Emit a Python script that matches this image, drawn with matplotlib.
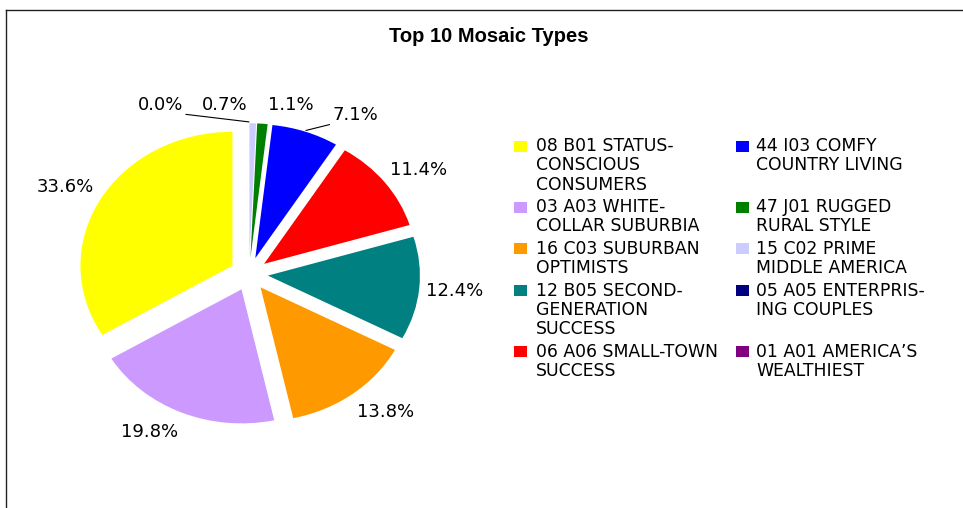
import numpy as np
import matplotlib
matplotlib.use("Agg")
import matplotlib.pyplot as plt
from matplotlib.lines import Line2D
from matplotlib.patches import Rectangle

# ---- data ----
categories = [
    "08 B01 STATUS-\nCONSCIOUS\nCONSUMERS",
    "03 A03 WHITE-\nCOLLAR SUBURBIA",
    "16 C03 SUBURBAN\nOPTIMISTS",
    "12 B05 SECOND-\nGENERATION\nSUCCESS",
    "06 A06 SMALL-TOWN\nSUCCESS",
    "44 I03 COMFY\nCOUNTRY LIVING",
    "47 J01 RUGGED\nRURAL STYLE",
    "15 C02 PRIME\nMIDDLE AMERICA",
    "05 A05 ENTERPRIS-\nING COUPLES",
    "01 A01 AMERICA\u2019S\nWEALTHIEST",
]
shares = [33.6, 19.8, 13.8, 12.4, 11.4, 7.1, 1.1, 0.7, 0.0, 0.0]
colors = ["#FFFF00", "#CC99FF", "#FF9900", "#008080", "#FF0000",
          "#0000FF", "#008000", "#CCCCFF", "#000080", "#800080"]
title = "Top 10 Mosaic Types"

# ---- layout (pixels / polar tweaks) ----
W, H = 963, 508
EXPLODE = 0.125
label_radius = [1.374, 1.347, 1.368, 1.361, 1.361, 1.378, 1.290, 1.271, 1.389, 1.389]
label_shift = [1.3, -5.7, 3.9, 0.1, -2.6, -11.2, -7.7, 8.4, 24.8, 24.8]
leader = {5: (0, 0), 8: (1, 0), 9: (1, 0)}

fig = plt.figure(figsize=(W / 100, H / 100), dpi=100)
fig.patch.set_facecolor("white")

# frame lines (chart area border, cropped)
fig.add_artist(Line2D([5.5 / W, 5.5 / W], [0, 1 - 9.5 / H], transform=fig.transFigure,
                      color="#202020", lw=1.0))
fig.add_artist(Line2D([5.5 / W, 1], [1 - 9.5 / H, 1 - 9.5 / H], transform=fig.transFigure,
                      color="#202020", lw=1.0))

fig.text(489 / W, 1 - 41.5 / H, title, ha="center", va="baseline",
         fontsize=14.5, fontweight="bold", family="Liberation Sans", color="black")

# pie axes
ax_w = 500
cx, cy = 249, H - 274
rx, ry = 152, 134
ax = fig.add_axes([0, 0, ax_w / W, 1])
wedges, _ = ax.pie(shares, colors=colors, startangle=90, counterclock=True,
                   explode=[EXPLODE] * len(shares), wedgeprops=dict(linewidth=0))
ax.set_aspect("auto")
ax.set_xlim(-cx / rx, (ax_w - cx) / rx)
ax.set_ylim(-cy / ry, (H - cy) / ry)
ax.axis("off")

drawn = set()
for i, (w, v) in enumerate(zip(wedges, shares)):
    mid = np.deg2rad((w.theta1 + w.theta2) / 2)
    ang = mid + np.deg2rad(label_shift[i])
    lx, ly = label_radius[i] * np.cos(ang), label_radius[i] * np.sin(ang)
    txt = f"{v:.1f}%"
    key = (round(lx, 3), round(ly, 3), txt)
    if key in drawn:
        continue  # identical label at the same spot (overlapping zero slices)
    drawn.add(key)
    if i in leader:
        sx, sy = (1 + EXPLODE + 0.01) * np.cos(mid), (1 + EXPLODE + 0.01) * np.sin(mid)
        ax.annotate(txt, xy=(sx, sy), xytext=(lx, ly), ha="center", va="center",
                    fontsize=13, family="DejaVu Sans", color="black",
                    arrowprops=dict(arrowstyle="-", color="black", lw=0.8,
                                    shrinkA=0, shrinkB=0, relpos=leader[i]))
    else:
        ax.text(lx, ly, txt, ha="center", va="center", fontsize=13,
                family="DejaVu Sans", color="black")

# legend (two columns, rows aligned)
sq_x = [514, 736]
tx_x = [536, 756]
y = 146.0
pitch = 19.3
gap = 3.2
n = len(categories) // 2
for r in range(n):
    pair = [r, r + n]
    nl = 0
    for c, idx in enumerate(pair):
        lines = categories[idx].split("\n")
        nl = max(nl, len(lines))
        fig.add_artist(Rectangle(((sq_x[c]) / W, 1 - (y + 5.5) / H), 13 / W, 11 / H,
                                 transform=fig.transFigure, facecolor=colors[idx],
                                 edgecolor="none"))
        for k, line in enumerate(lines):
            fig.text(tx_x[c] / W, 1 - (y + k * pitch) / H, line, ha="left", va="center",
                     fontsize=12.4, family="DejaVu Sans", color="black")
    y += nl * pitch + gap

fig.savefig("out.png", dpi=100, facecolor="white")
